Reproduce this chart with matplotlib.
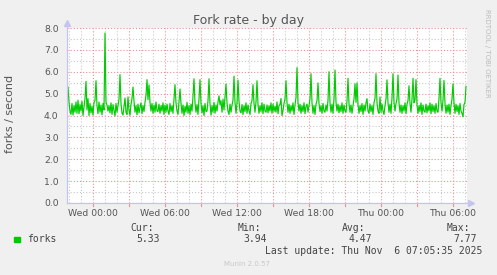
import numpy as np
import matplotlib
matplotlib.use('Agg')
import matplotlib.pyplot as plt
from matplotlib.patches import Rectangle

# forks per second, one value per 5 minutes (Tue ~21:50 -> Thu ~07:10)
forks = [
    4.62, 5.31, 4.60, 4.20, 4.05, 4.55, 4.02, 4.45, 4.15, 4.62, 4.10, 4.70, 4.08, 4.50, 4.20, 4.65, 4.00, 4.40, 4.78, 5.56,
    4.25, 4.77, 4.00, 4.55, 4.12, 4.42, 4.02, 4.60, 4.68, 5.59, 4.45, 4.08, 4.62, 4.15, 4.48, 4.03, 4.55, 4.25, 7.77, 4.60,
    4.48, 4.20, 4.45, 4.12, 4.58, 4.05, 4.50, 4.22, 3.98, 4.55, 4.15, 4.45, 4.75, 5.87, 4.55, 4.10, 4.02, 4.42, 4.80, 4.15,
    4.05, 4.85, 4.22, 4.02, 4.50, 4.78, 5.30, 4.65, 4.15, 4.45, 4.03, 4.52, 4.12, 4.38, 4.58, 4.08, 4.45, 4.18, 4.60, 4.92,
    5.64, 4.72, 5.40, 4.60, 4.20, 4.55, 4.10, 4.48, 4.15, 4.62, 4.22, 4.18, 4.52, 4.10, 4.45, 4.20, 4.58, 4.05, 4.48, 4.15,
    4.52, 4.20, 4.05, 4.55, 4.18, 4.45, 4.10, 4.78, 5.41, 4.58, 4.20, 4.05, 4.65, 5.21, 4.55, 4.10, 4.48, 4.00, 4.42, 4.15,
    4.60, 4.10, 4.45, 4.05, 4.52, 4.20, 4.88, 5.68, 4.58, 4.15, 4.50, 4.05, 4.75, 5.64, 4.55, 4.12, 4.45, 4.00, 4.55, 4.18,
    4.20, 4.68, 5.68, 4.55, 4.02, 4.45, 4.15, 4.60, 4.10, 4.48, 4.20, 4.62, 4.90, 4.50, 4.68, 4.15, 4.75, 4.25, 4.82, 5.44,
    4.58, 4.20, 4.05, 4.52, 4.15, 4.48, 4.70, 5.80, 4.60, 4.10, 4.55, 5.62, 4.65, 4.20, 4.12, 4.50, 4.05, 4.45, 4.18, 4.58,
    4.10, 4.48, 4.20, 4.05, 4.55, 4.68, 5.41, 4.55, 4.15, 4.62, 5.59, 4.50, 4.10, 4.45, 4.18, 4.58, 4.08, 4.52, 4.20, 4.15,
    4.48, 4.12, 4.45, 4.20, 4.58, 4.10, 4.52, 4.18, 4.42, 4.15, 4.62, 4.08, 4.45, 4.50, 4.78, 4.00, 4.22, 4.55, 4.75, 5.59,
    4.58, 4.15, 4.52, 4.10, 4.45, 4.20, 4.58, 4.05, 4.48, 4.82, 6.19, 4.60, 4.20, 4.52, 4.10, 4.45, 4.18, 4.58, 4.08, 4.42,
    4.52, 4.15, 4.45, 4.75, 5.91, 4.58, 4.10, 4.45, 4.05, 4.52, 4.68, 5.49, 4.55, 4.18, 4.45, 4.10, 4.55, 4.20, 4.15, 4.48,
    4.20, 4.70, 6.00, 4.58, 4.15, 4.52, 4.10, 4.75, 6.08, 4.60, 4.20, 4.52, 4.12, 4.45, 4.18, 4.58, 4.10, 4.48, 4.20, 4.15,
    4.65, 5.70, 4.55, 4.15, 4.48, 4.10, 4.45, 4.75, 5.45, 4.60, 5.49, 4.50, 4.10, 4.45, 4.18, 4.55, 4.05, 4.48, 4.20, 4.58,
    4.77, 4.20, 4.10, 4.52, 4.18, 4.45, 4.05, 4.58, 4.78, 5.91, 4.58, 4.20, 4.10, 4.85, 4.15, 4.52, 4.20, 4.05, 4.45, 4.75,
    5.63, 4.58, 4.15, 4.52, 4.10, 4.82, 5.91, 4.60, 4.20, 4.55, 4.75, 5.85, 4.58, 4.15, 4.48, 4.10, 4.45, 4.20, 4.58, 4.08,
    4.52, 4.68, 5.36, 4.55, 4.15, 4.75, 5.70, 4.58, 4.70, 5.64, 4.50, 4.10, 4.45, 4.18, 4.58, 4.05, 4.48, 4.20, 4.15, 4.52,
    4.12, 4.45, 4.20, 4.58, 4.08, 4.52, 4.18, 4.45, 4.10, 4.55, 4.20, 4.15, 4.78, 5.70, 4.58, 4.20, 4.70, 5.60, 4.55, 4.10,
    4.48, 4.15, 4.52, 4.05, 4.45, 4.75, 5.45, 4.58, 4.10, 4.52, 4.18, 4.45, 4.05, 4.55, 4.20, 4.10, 3.94, 4.50, 4.60, 5.33,
]
start_hour = -26 / 12.0   # hours relative to Wed 00:00
xtick_hours = [0, 6, 12, 18, 24, 30]
xtick_labels = ['Wed 00:00', 'Wed 06:00', 'Wed 12:00', 'Wed 18:00', 'Thu 00:00', 'Thu 06:00']
yticks = [0, 1, 2, 3, 4, 5, 6, 7, 8]
stats_names = ['Cur:', 'Min:', 'Avg:', 'Max:']
stats_values = ['5.33', '3.94', '4.47', '7.77']

W, H = 497, 275
fig = plt.figure(figsize=(W / 100, H / 100), dpi=100, facecolor='#F0F0F0')
L, R, T, B = 67, 467, 28, 203
ax = fig.add_axes([L / W, 1 - B / H, (R - L) / W, (B - T) / H])
ax.set_facecolor('white')

hours = start_hour + np.arange(len(forks)) / 12.0
ax.set_xlim(start_hour, start_hour + 400 / 12.0)
ax.set_ylim(0, 8)

# grid: red dotted majors, grey dotted minors
minor_x = np.arange(-2, 32, 1)
major_x = np.arange(0, 32, 3)
dots = (0, (1, 1.8))
for x in minor_x:
    if x % 3 != 0:
        ax.axvline(x, color='#C8C8C8', lw=0.8, ls=dots, zorder=1)
for x in major_x:
    ax.axvline(x, color='#EE9090', lw=0.8, ls=dots, zorder=1)
for y in np.arange(0.5, 8, 1.0):
    ax.axhline(y, color='#C8C8C8', lw=0.8, ls=dots, zorder=1)
for y in yticks:
    ax.axhline(y, color='#EE9090', lw=0.8, ls=dots, zorder=1)

ax.plot(hours, forks, color='#00CC00', lw=0.85, zorder=3)

for s in ax.spines.values():
    s.set_visible(False)
ax.set_xticks(xtick_hours)
ax.set_xticklabels(xtick_labels)
ax.set_yticks(yticks)
ax.set_yticklabels(['%.1f' % v for v in yticks])
ax.tick_params(axis='both', length=0, labelsize=6.7, labelcolor='#555555')
ax.tick_params(axis='x', pad=4)
ax.tick_params(axis='y', pad=6)

# axis lines with arrows
axis_col = '#C4C4F0'
ax.plot([0, 0], [0, 1.03], transform=ax.transAxes, color=axis_col, lw=0.9, clip_on=False, zorder=4)
ax.plot([0, 1.01], [0, 0], transform=ax.transAxes, color=axis_col, lw=0.9, clip_on=False, zorder=4)
ax.plot([0], [1.03], marker='^', ms=4, color=axis_col, transform=ax.transAxes, clip_on=False, zorder=4)
ax.plot([1.01], [0], marker='>', ms=4, color=axis_col, transform=ax.transAxes, clip_on=False, zorder=4)
# small red ticks under the x axis
for x in major_x:
    ax.plot([x, x], [0, -0.015], transform=ax.get_xaxis_transform(), color='#EE9090', lw=0.8, clip_on=False)


def fx(px):
    return px / W


def fy(py):
    return 1 - py / H


fig.text(fx(248.5), fy(24), 'Fork rate - by day', ha='center', va='baseline', fontsize=9, color='#555555')
fig.text(fx(10.5), fy(114), 'forks / second', rotation=90, ha='center', va='center', fontsize=8, color='#555555')
fig.text(fx(487), fy(53), 'RRDTOOL / TOBI OETIKER', rotation=270, ha='center', va='center', fontsize=5, color='#BBBBBB')

mono = 'DejaVu Sans Mono'
fig.patches.append(Rectangle((fx(14), fy(242)), 6 / W, 5.5 / H, transform=fig.transFigure, color='#00CC00'))
fig.text(fx(27), fy(239.5), 'forks', ha='left', va='center', fontsize=7, family=mono, color='#444444')
name_right = [154, 260.7, 365, 470]
val_right = [160, 266.7, 371.7, 476.7]
for n, v, nr, vr in zip(stats_names, stats_values, name_right, val_right):
    fig.text(fx(nr), fy(228), n, ha='right', va='center', fontsize=7, family=mono, color='#444444')
    fig.text(fx(vr), fy(239.5), v, ha='right', va='center', fontsize=7, family=mono, color='#444444')
fig.text(fx(482), fy(251.5), 'Last update: Thu Nov  6 07:05:35 2025', ha='right', va='center',
         fontsize=7, family=mono, color='#444444')
fig.text(fx(247.5), fy(264), 'Munin 2.0.57', ha='center', va='center', fontsize=5, color='#C8C8C8')

fig.savefig('out.png', dpi=100, facecolor=fig.get_facecolor())
